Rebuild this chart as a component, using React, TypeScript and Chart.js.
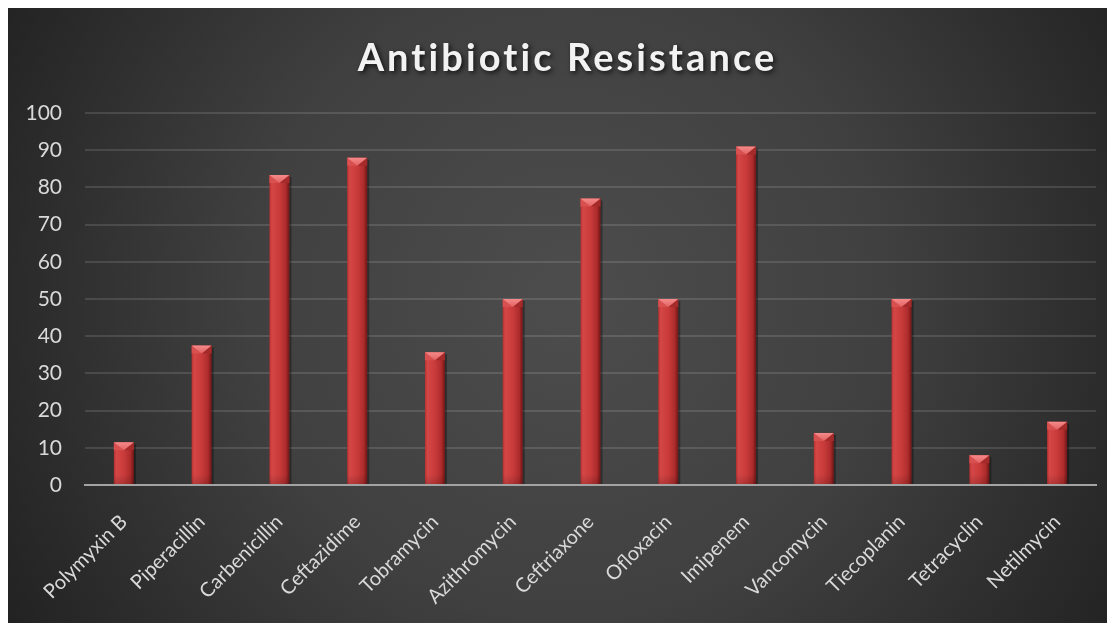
import React, { useEffect, useRef } from "react";
import { Chart, registerables } from "chart.js";

Chart.register(...registerables);

const chartTitle = "Antibiotic Resistance";
const categories = [
  "Polymyxin B",
  "Piperacillin",
  "Carbenicillin",
  "Ceftazidime",
  "Tobramycin",
  "Azithromycin",
  "Ceftriaxone",
  "Ofloxacin",
  "Imipenem",
  "Vancomycin",
  "Tiecoplanin",
  "Tetracyclin",
  "Netilmycin",
];
const resistance = [11.5, 37.5, 83.3, 88, 35.7, 50, 77, 50, 91, 14, 50, 8, 17];
const yMin = 0;
const yMax = 100;
const yStep = 10;

const W = 1107;
const H = 615;
const FONT = "Lato, 'Open Sans', sans-serif";

const backgroundPlugin = {
  id: "bgGradient",
  beforeDraw(chart: any) {
    const { ctx } = chart;
    ctx.save();
    const g = ctx.createRadialGradient(560, 290, 20, 560, 290, 680);
    g.addColorStop(0, "#4c4c4c");
    g.addColorStop(0.45, "#404040");
    g.addColorStop(1, "#1f1f1f");
    ctx.fillStyle = g;
    ctx.fillRect(0, 0, chart.width, chart.height);
    ctx.restore();
  },
};

const titlePlugin = {
  id: "customTitle",
  afterDraw(chart: any) {
    const { ctx } = chart;
    ctx.save();
    const size = 38;
    ctx.font = `bold ${size}px ${FONT}`;
    (ctx as any).letterSpacing = "0px";
    const base = ctx.measureText(chartTitle).width;
    const target = 418;
    const spacing = (target - base) / (chartTitle.length - 1);
    (ctx as any).letterSpacing = `${spacing}px`;
    const w = ctx.measureText(chartTitle).width - spacing;
    ctx.textBaseline = "alphabetic";
    ctx.textAlign = "left";
    ctx.shadowColor = "rgba(0,0,0,0.75)";
    ctx.shadowBlur = 5;
    ctx.shadowOffsetX = 2;
    ctx.shadowOffsetY = 2;
    ctx.fillStyle = "#f2f2f2";
    ctx.fillText(chartTitle, 558 - w / 2, 63);
    ctx.restore();
  },
};

const bevelPlugin = {
  id: "bevelBars",
  afterDatasetsDraw(chart: any) {
    const { ctx } = chart;
    const meta = chart.getDatasetMeta(0);
    ctx.save();
    meta.data.forEach((el: any) => {
      const { x, y, base, width } = el.getProps(["x", "y", "base", "width"], true);
      const l = x - width / 2;
      const r = x + width / 2;
      const top = Math.min(y, base);
      const bot = Math.max(y, base);
      ctx.fillStyle = "rgba(0,0,0,0.35)";
      ctx.fillRect(r, top + 2, 2, bot - top - 2);
      const g = ctx.createLinearGradient(l, 0, r, 0);
      g.addColorStop(0, "#b53030");
      g.addColorStop(0.12, "#d54646");
      g.addColorStop(0.5, "#c93b3b");
      g.addColorStop(0.82, "#ae2c2c");
      g.addColorStop(1, "#701515");
      ctx.fillStyle = g;
      ctx.fillRect(l, top, r - l, bot - top);
      const bh = Math.min(8, (bot - top) / 2);
      ctx.fillStyle = "#d85050";
      ctx.beginPath();
      ctx.moveTo(l, top);
      ctx.lineTo(x, top + bh);
      ctx.lineTo(l, top + bh);
      ctx.closePath();
      ctx.fill();
      ctx.fillStyle = "#a52a2a";
      ctx.beginPath();
      ctx.moveTo(r, top);
      ctx.lineTo(x, top + bh);
      ctx.lineTo(r, top + bh);
      ctx.closePath();
      ctx.fill();
      const tg = ctx.createLinearGradient(0, top, 0, top + bh);
      tg.addColorStop(0, "#f58a8a");
      tg.addColorStop(1, "#e26262");
      ctx.fillStyle = tg;
      ctx.beginPath();
      ctx.moveTo(l, top);
      ctx.lineTo(r, top);
      ctx.lineTo(x, top + bh);
      ctx.closePath();
      ctx.fill();
      const bg = ctx.createLinearGradient(0, bot - 10, 0, bot);
      bg.addColorStop(0, "rgba(0,0,0,0)");
      bg.addColorStop(1, "rgba(0,0,0,0.15)");
      ctx.fillStyle = bg;
      ctx.fillRect(l, Math.max(top + bh, bot - 10), r - l, Math.min(10, bot - top - bh));
    });
    ctx.restore();
  },
};

export default function App() {
  const ref = useRef<HTMLCanvasElement | null>(null);

  useEffect(() => {
    document.body.style.overflow = "hidden";
    const canvas = ref.current;
    if (!canvas) return;
    const chart = new Chart(canvas, {
      type: "bar",
      data: {
        labels: categories,
        datasets: [
          {
            label: "Resistance",
            data: resistance,
            backgroundColor: "rgba(0,0,0,0)",
            borderWidth: 0,
            barPercentage: 0.257,
            categoryPercentage: 1,
          },
        ],
      },
      options: {
        responsive: false,
        animation: false,
        layout: { padding: { top: 105, right: 19, left: 0, bottom: 0 } },
        plugins: {
          legend: { display: false },
          title: { display: false },
          tooltip: { enabled: false },
        },
        scales: {
          x: {
            afterFit: (s: any) => {
              s.height = H - 477;
            },
            grid: { display: false, drawTicks: false },
            border: { display: true, color: "#a3a3a3", width: 2 },
            ticks: {
              autoSkip: false,
              minRotation: 45,
              maxRotation: 45,
              padding: 25,
              color: "#d9d9d9",
              font: { family: FONT, size: 20 },
            },
          },
          y: {
            min: yMin,
            max: yMax,
            afterFit: (s: any) => {
              s.width = 77;
            },
            grid: {
              drawTicks: false,
              color: (c: any) => (c.tick && c.tick.value === 0 ? "rgba(0,0,0,0)" : "rgba(255,255,255,0.12)"),
              lineWidth: 2,
            },
            border: { display: false },
            ticks: {
              stepSize: yStep,
              padding: 23,
              color: "#d9d9d9",
              font: { family: FONT, size: 21 },
            },
          },
        },
      },
      plugins: [backgroundPlugin, bevelPlugin, titlePlugin],
    });
    return () => chart.destroy();
  }, []);

  return (
    <div style={{ width: W, height: H, overflow: "hidden" }}>
      <canvas ref={ref} width={W} height={H} style={{ display: "block", width: W, height: H }} />
    </div>
  );
}
